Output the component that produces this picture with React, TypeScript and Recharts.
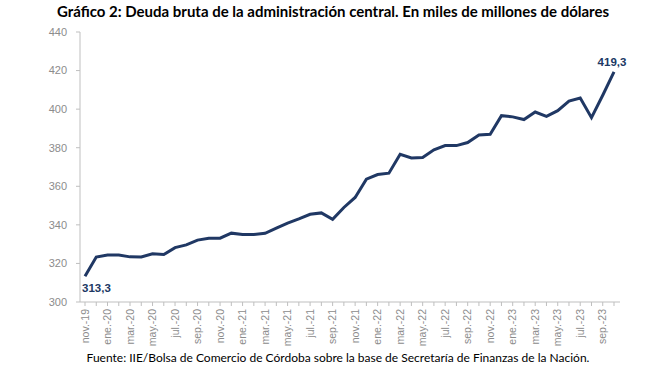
import { Line, LineChart, XAxis, YAxis } from "recharts";

const months = [
  "nov.-19", "dic.-19", "ene.-20", "feb.-20", "mar.-20", "abr.-20", "may.-20", "jun.-20",
  "jul.-20", "ago.-20", "sep.-20", "oct.-20", "nov.-20", "dic.-20", "ene.-21", "feb.-21",
  "mar.-21", "abr.-21", "may.-21", "jun.-21", "jul.-21", "ago.-21", "sep.-21", "oct.-21",
  "nov.-21", "dic.-21", "ene.-22", "feb.-22", "mar.-22", "abr.-22", "may.-22", "jun.-22",
  "jul.-22", "ago.-22", "sep.-22", "oct.-22", "nov.-22", "dic.-22", "ene.-23", "feb.-23",
  "mar.-23", "abr.-23", "may.-23", "jun.-23", "jul.-23", "ago.-23", "sep.-23", "oct.-23",
];

const deuda = [
  313.3, 323.3, 324.4, 324.4, 323.4, 323.3, 325.0, 324.6,
  328.2, 329.6, 332.1, 333.1, 333.1, 335.7, 335.0, 335.0,
  335.6, 338.3, 340.9, 343.1, 345.5, 346.2, 342.9, 349.0,
  354.2, 363.7, 366.1, 366.8, 376.6, 374.7, 374.9, 378.9,
  381.1, 381.1, 382.7, 386.6, 387.0, 396.6, 396.0, 394.6,
  398.5, 396.3, 399.2, 404.2, 405.8, 395.6, 407.2, 419.3,
];

const yTicks = [300, 320, 340, 360, 380, 400, 420, 440];

const data = months.map((mes, i) => ({ mes, deuda: deuda[i] }));

const NAVY = "#203864";
const AXIS = "#bfbfbf";
const TICK = "#8c8c8c";

function MonthTick({ x, y, payload, index }: any) {
  if (index % 2 !== 0) return null;
  return (
    <text
      x={x}
      y={y}
      transform={`rotate(-90, ${x}, ${y})`}
      textAnchor="end"
      dy="0.35em"
      fill={TICK}
      fontSize={10.5}
      fontFamily="'Liberation Sans', Arial, sans-serif"
    >
      {payload.value}
    </text>
  );
}

function EndLabel({ x, y, index, value }: any) {
  const last = deuda.length - 1;
  if (index !== 0 && index !== last) return null;
  const txt = Number(value).toFixed(1).replace(".", ",");
  return (
    <text
      x={index === 0 ? x - 3 : x - 2}
      y={index === 0 ? y + 12 : y - 10}
      dy="0.35em"
      textAnchor={index === 0 ? "start" : "middle"}
      fill={NAVY}
      fontSize={11.5}
      fontWeight="bold"
      fontFamily="'Liberation Sans', Arial, sans-serif"
    >
      {txt}
    </text>
  );
}

export default function App() {
  return (
    <div style={{ position: "absolute", left: 0, top: 0, width: 670, height: 377, background: "#fff" }}>
      <div
        style={{
          position: "absolute",
          left: 0,
          top: 2,
          width: 666,
          textAlign: "center",
          fontFamily: "Lato, sans-serif",
          fontWeight: 700,
          fontSize: 15,
          color: "#000",
        }}
      >
        Gráfico 2: Deuda bruta de la administración central. En miles de millones de dólares
      </div>
      <div style={{ position: "absolute", left: 0, top: 0 }}>
        <LineChart width={670} height={377} data={data} margin={{ top: 32, right: 50, bottom: 30, left: 0 }}>
          <XAxis
            dataKey="mes"
            interval={0}
            stroke={AXIS}
            tickSize={4}
            tickMargin={3}
            height={45}
            padding={{ left: 5, right: 6 }}
            tick={<MonthTick />}
          />
          <YAxis
            domain={[300, 440]}
            ticks={yTicks}
            width={80}
            stroke={AXIS}
            tickSize={4}
            tickMargin={9}
            tick={{ fill: TICK, fontSize: 11, fontFamily: "'Liberation Sans', Arial, sans-serif" }}
          />
          <Line
            type="linear"
            dataKey="deuda"
            stroke={NAVY}
            strokeWidth={3}
            dot={false}
            isAnimationActive={false}
            label={<EndLabel />}
          />
        </LineChart>
      </div>
      <div
        style={{
          position: "absolute",
          left: 0,
          top: 350,
          width: 676,
          textAlign: "center",
          fontFamily: "Lato, sans-serif",
          fontSize: 12,
          color: "#000",
        }}
      >
        Fuente: IIE/Bolsa de Comercio de Córdoba sobre la base de Secretaría de Finanzas de la Nación.
      </div>
    </div>
  );
}
